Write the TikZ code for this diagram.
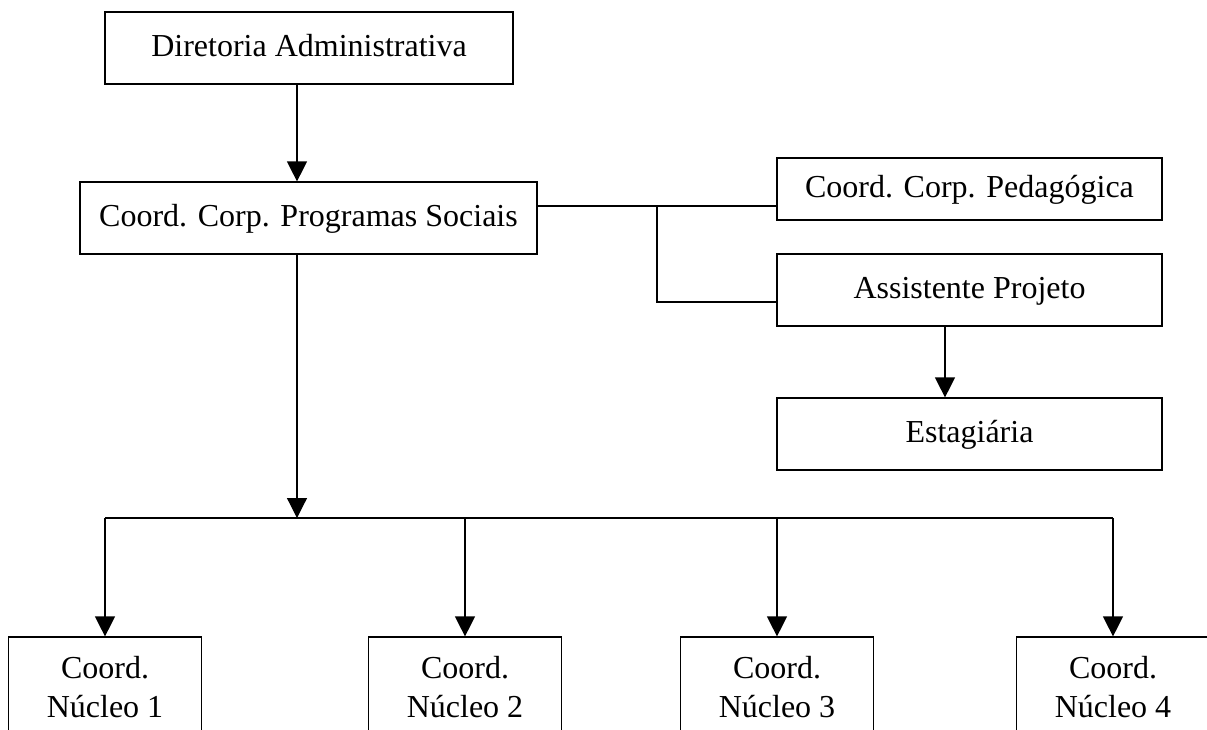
\documentclass[tikz,border=0pt]{standalone}
\usepackage{fontspec}
\setmainfont{Liberation Serif}
\usetikzlibrary{arrows.meta}
\begin{document}
\begin{tikzpicture}[x=0.75pt,y=-0.75pt,
  box/.style={draw,line width=0.9pt,rectangle,inner sep=0pt,align=center,
    font=\fontsize{24pt}{29pt}\selectfont,text height=17pt,text depth=5pt},
  link/.style={line width=0.9pt},
  arr/.style={line width=0.9pt,-{Triangle[width=15pt,length=15pt]}}]
\useasboundingbox (0,0) rectangle (1207,729);
\clip (0,0) rectangle (1207,729);
% nodes
\node[box,minimum width={408*0.75pt},minimum height={72*0.75pt}] (dir) at (309,48) {Diretoria Administrativa};
\node[box,minimum width={457*0.75pt},minimum height={72*0.75pt}] (prog) at (308.5,218) {Coord. Corp. Programas Sociais};
\node[box,minimum width={385*0.75pt},minimum height={62*0.75pt}] (ped) at (969.5,189) {Coord. Corp. Pedagógica};
\node[box,minimum width={385*0.75pt},minimum height={72*0.75pt}] (asst) at (969.5,290) {Assistente Projeto};
\node[box,minimum width={385*0.75pt},minimum height={72*0.75pt}] (est) at (969.5,434) {Estagiária};
\node[box,minimum width={193*0.75pt},minimum height={100*0.75pt},text height=,text depth=] (n1) at (105,687) {Coord.\\Núcleo 1};
\node[box,minimum width={193*0.75pt},minimum height={100*0.75pt},text height=,text depth=] (n2) at (465,687) {Coord.\\Núcleo 2};
\node[box,minimum width={193*0.75pt},minimum height={100*0.75pt},text height=,text depth=] (n3) at (777,687) {Coord.\\Núcleo 3};
\node[box,minimum width={193*0.75pt},minimum height={100*0.75pt},text height=,text depth=] (n4) at (1113,687) {Coord.\\Núcleo 4};
% helper coordinates
\coordinate (vx) at (297,0);
\coordinate (hy) at (0,206);
\coordinate (jx) at (657,0);
\coordinate (ay) at (0,302);
\coordinate (ex) at (945,0);
\coordinate (bus) at (0,518);
% connectors
\draw[arr] (dir.south -| vx) -- (prog.north -| vx);
\draw[link] (prog.east |- hy) -- (ped.west |- hy);
\draw[link] (jx |- hy) -- (jx |- ay) -- (asst.west |- ay);
\draw[arr] (asst.south -| ex) -- (est.north -| ex);
\draw[arr] (prog.south -| vx) -- (vx |- bus);
\draw[link] (n1.north |- bus) -- (n4.north |- bus);
\draw[arr] (n1.north |- bus) -- (n1.north);
\draw[arr] (n2.north |- bus) -- (n2.north);
\draw[arr] (n3.north |- bus) -- (n3.north);
\draw[arr] (n4.north |- bus) -- (n4.north);
\end{tikzpicture}
\end{document}
